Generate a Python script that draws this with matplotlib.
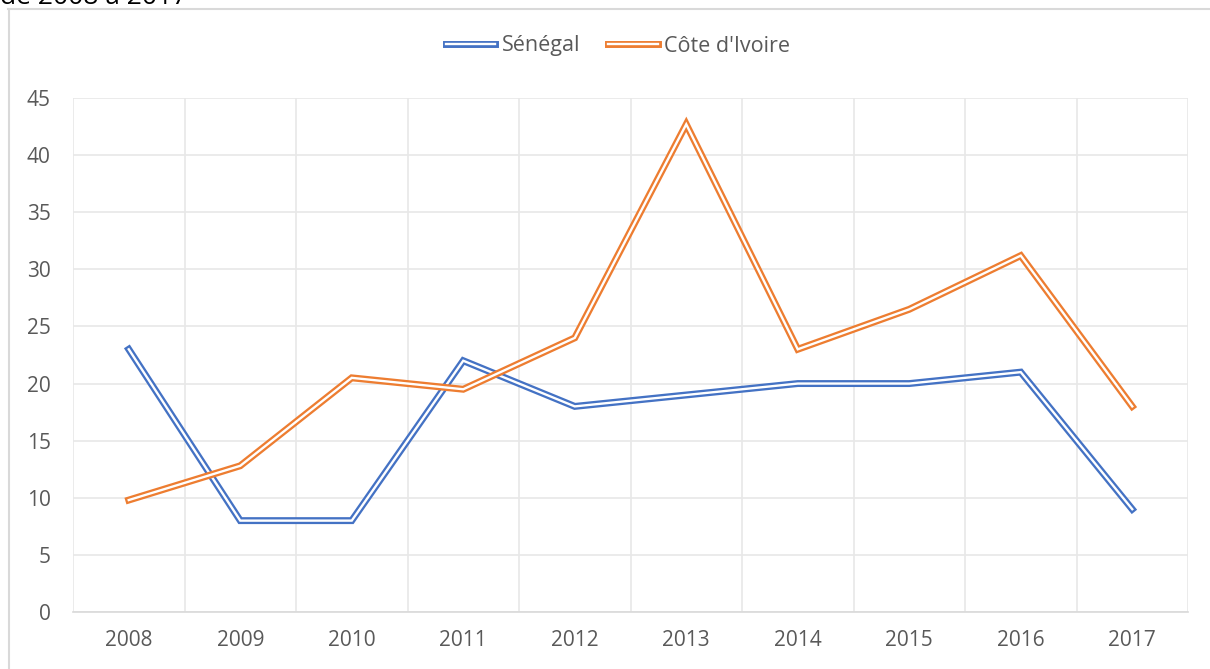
import matplotlib.pyplot as plt
from matplotlib.lines import Line2D
from matplotlib.legend_handler import HandlerTuple

# ─── data ─────────────────────────────────────────────────────────────────────
years = ["2008", "2009", "2010", "2011", "2012", "2013", "2014", "2015", "2016", "2017"]
senegal = [23.0, 8.0, 8.0, 22.0, 18.0, 19.0, 20.0, 20.0, 21.0, 9.0]
cote_ivoire = [9.8, 12.8, 20.5, 19.5, 24.0, 42.7, 23.0, 26.5, 31.2, 18.0]

BLUE = "#4472C4"
ORANGE = "#ED7D31"
TEXT = "#595959"
GRID = "#E8E8E8"

plt.rcParams["font.family"] = ["Open Sans", "DejaVu Sans"]

W, H = 1210, 669
fig = plt.figure(figsize=(W / 100, H / 100), dpi=100)
ax = fig.add_axes([73 / W, 1 - 612 / H, (1188 - 73) / W, (612 - 98) / H])

x = list(range(len(years)))

# double ("compound") lines: thick coloured stroke with a thin white core
handles = []
for vals, col, name in [(senegal, BLUE, "Sénégal"), (cote_ivoire, ORANGE, "Côte d'Ivoire")]:
    ax.plot(x, vals, color=col, lw=5.0, solid_joinstyle="miter", zorder=3)
    ax.plot(x, vals, color="white", lw=1.7, solid_joinstyle="miter", zorder=3)
    outer = Line2D([], [], color=col, lw=5.0)
    inner = Line2D([], [], color="white", lw=1.7)
    handles.append(((outer, inner), name))

ax.set_xlim(-0.5, len(years) - 0.5)
ax.set_ylim(0, 45)
ax.set_yticks(range(0, 46, 5))
ax.set_xticks(x)
ax.set_xticklabels(years)
ax.set_xticks([i + 0.5 for i in range(-1, len(years))], minor=True)

ax.grid(axis="y", color=GRID, lw=1.2)
ax.grid(axis="x", which="minor", color=GRID, lw=1.2)
ax.set_axisbelow(True)
for s in ["top", "right", "left"]:
    ax.spines[s].set_visible(False)
ax.spines["bottom"].set_color("#D9D9D9")
ax.spines["bottom"].set_linewidth(1.2)
ax.tick_params(which="both", length=0)
ax.tick_params(axis="x", labelsize=15, colors=TEXT, pad=13)
ax.tick_params(axis="y", labelsize=15, colors=TEXT, pad=16)

leg = fig.legend(
    [h for h, _ in handles], [n for _, n in handles],
    handler_map={tuple: HandlerTuple(ndivide=1)},
    loc="center", bbox_to_anchor=(618 / W, 1 - 46 / H), ncol=2, frameon=False,
    fontsize=15.5, handlelength=2.3, columnspacing=1.3, handletextpad=0.3,
)
for t in leg.get_texts():
    t.set_color(TEXT)

# chart area border (partially cropped)
fig.add_artist(Line2D([8.5 / W, 8.5 / W], [0, 1 - 9 / H], color="#D9D9D9", lw=1.5))
fig.add_artist(Line2D([8 / W, 1], [1 - 9 / H, 1 - 9 / H], color="#D9D9D9", lw=1.5))

# cropped title line above the chart
fig.text(0, 1 - 4 / H, "de 2008 à 2017", fontsize=19, color="black", va="baseline", ha="left")

fig.savefig("out.png", dpi=100)
